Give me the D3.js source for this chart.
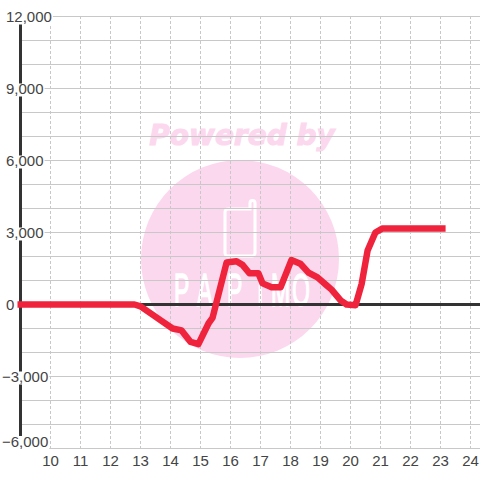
<!DOCTYPE html>
<html lang="en">
<head>
<meta charset="UTF-8">
<title>Chart</title>
<script src="https://d3js.org/d3.v7.min.js"></script>
<style>
    html, body { margin: 0; padding: 0; background: #fff; }
    svg { display: block; }
    text { font-family: "Liberation Sans", Arial, sans-serif; }
</style>
</head>
<body>
<svg width="480" height="480"></svg>
<script>
// values
const hours = [8.9, 12.8, 13.0, 13.4, 13.7, 14.07, 14.37, 14.67, 14.93, 15.27, 15.4, 15.87, 16.2, 16.4, 16.63, 16.93, 17.07, 17.37, 17.67, 18.03, 18.33, 18.6, 18.9, 19.2, 19.37, 19.67, 19.87, 20.17, 20.37, 20.57, 20.83, 21.07, 23.17];
const profit = [0, 0, -80, -420, -680, -1000, -1080, -1560, -1650, -780, -560, 1750, 1800, 1650, 1300, 1300, 880, 720, 720, 1850, 1700, 1330, 1130, 800, 620, 170, 0, -30, 850, 2250, 3000, 3170, 3170];
const xTicks = [10, 11, 12, 13, 14, 15, 16, 17, 18, 19, 20, 21, 22, 23, 24];
const yMajor = [12000, 9000, 6000, 3000, 0, -3000, -6000];
const yGrid = d3.range(-6000, 12001, 1000);
const logoLetters = ['P', 'A', 'P', 'I', 'M', 'O'];
const logoLeft = [174, 197, 227, 257, 271, 292];

const svg = d3.select('svg');
const x = d3.scaleLinear().domain([9, 24]).range([20.5, 470.5]);
const y = d3.scaleLinear().domain([-6000, 12000]).range([448.5, 16.5]);

// watermark sits under the grid
const mark = svg.append('g');
mark.append('text')
    .attr('x', 242).attr('y', 145)
    .attr('text-anchor', 'middle')
    .style('font-family', '"DejaVu Sans"')
    .style('font-weight', 'bold').style('font-style', 'italic')
    .style('font-size', '28px')
    .attr('fill', '#fcd8ee')
    .attr('stroke', '#fcd8ee').attr('stroke-width', 1)
    .text('Powered by');
mark.append('circle')
    .attr('cx', 240).attr('cy', 259).attr('r', 99)
    .attr('fill', '#fcd8ee');
mark.append('path')
    .attr('d', 'M228 209h22v-6a2.5 2.5 0 0 1 5 0v50a3 3 0 0 1 -3 3h-24a3 3 0 0 1 -3 -3v-41a3 3 0 0 1 3 -3z')
    .attr('fill', 'none').attr('stroke', '#fff').attr('stroke-width', 3);
mark.append('g').selectAll('text')
    .data(logoLetters)
    .enter().append('text')
    .attr('transform', (d, i) => `translate(${logoLeft[i]},306) scale(0.5,1)`)
    .style('font-size', '46px')
    .attr('fill', '#fff')
    .attr('stroke', '#fff').attr('stroke-width', 1.5)
    .text(d => d);

// grid, runs from the axis, the label boxes cut it
svg.append('g').selectAll('line')
    .data(yGrid)
    .enter().append('line')
    .attr('x1', 20).attr('x2', 480)
    .attr('y1', d => y(d)).attr('y2', d => y(d))
    .attr('stroke', '#c8c8c8').attr('stroke-width', 1);

svg.append('g').selectAll('line')
    .data(xTicks)
    .enter().append('line')
    .attr('x1', d => x(d)).attr('x2', d => x(d))
    .attr('y1', 16).attr('y2', 448)
    .attr('stroke', '#c8c8c8').attr('stroke-width', 1)
    .attr('stroke-dasharray', '3,2');

// axes
svg.append('line')
    .attr('x1', 20.5).attr('x2', 20.5).attr('y1', 24).attr('y2', 436)
    .attr('stroke', '#333').attr('stroke-width', 3);
svg.append('line')
    .attr('x1', 20).attr('x2', 480).attr('y1', y(0)).attr('y2', y(0))
    .attr('stroke', '#333').attr('stroke-width', 3);

// y labels have a white box behind them, that is what breaks the axis line
// the lowest one is pushed up to stay clear of the x labels
const labelY = d => d === -6000 ? y(d) - 7 : y(d);
const yLabels = svg.append('g').selectAll('g')
    .data(yMajor)
    .enter().append('g');
const yRects = yLabels.append('rect')
    .attr('y', d => labelY(d) - 5).attr('height', 13)
    .attr('fill', '#fff');
const yTexts = yLabels.append('text')
    .attr('x', d => d < 0 ? 2 : 6).attr('y', d => labelY(d) + 5.5)
    .style('font-size', '15px')
    .attr('fill', '#444')
    .text(d => d3.format(',')(d));
yRects.each(function(d, i) {
    const n = yTexts.nodes()[i];
    d3.select(this)
        .attr('x', n.getAttribute('x'))
        .attr('width', n.getComputedTextLength() + 1);
});

svg.append('g').selectAll('text')
    .data(xTicks)
    .enter().append('text')
    .attr('x', d => x(d)).attr('y', 466)
    .attr('text-anchor', 'middle')
    .style('font-size', '15px')
    .attr('fill', '#444')
    .text(d => d);

// series
const line = d3.line()
    .x((d, i) => x(hours[i]))
    .y(d => y(d));

svg.append('path')
    .attr('d', line(profit))
    .attr('fill', 'none')
    .attr('stroke', '#ef233c')
    .attr('stroke-width', 6.5)
    .attr('stroke-linejoin', 'round');
</script>
</body>
</html>
